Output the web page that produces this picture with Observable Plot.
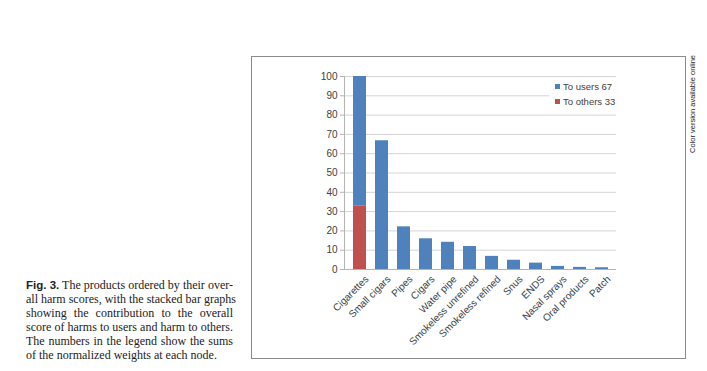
<!DOCTYPE html>
<html>
<head>
<meta charset="utf-8">
<script src="https://cdn.jsdelivr.net/npm/d3@7"></script>
<script src="https://cdn.jsdelivr.net/npm/@observablehq/plot@0.6"></script>
<style>
  html, body { margin: 0; padding: 0; background: #fff; }
  body { width: 707px; height: 371px; position: relative; overflow: hidden; }
  #box { position: absolute; left: 251px; top: 56px; width: 435px; height: 303px; box-sizing: border-box; border: 1px solid #8a8a8a; }
  #chart { position: absolute; left: 252px; top: 57px; }
  #legend { position: absolute; left: 549px; top: 79px; width: 68px; height: 31px; background: #fff;
            font-family: "Liberation Sans", Arial, sans-serif; font-size: 9.5px; color: #404040; }
  #legend .item { position: absolute; left: 6px; height: 12px; line-height: 12px; white-space: nowrap; }
  #legend .sw { display: inline-block; width: 5px; height: 5px; margin-right: 3px; vertical-align: 1px; }
  #side { position: absolute; left: 688px; top: 55px; width: 10px; height: 98px; }
  #side span { position: absolute; left: 0; top: 0; transform-origin: 0 0; transform: translate(0px, 98px) rotate(-90deg);
               font-family: "Liberation Sans", Arial, sans-serif; font-size: 7.5px; color: #222; white-space: nowrap; line-height: 10px; }
  #caption { position: absolute; left: 26px; top: 278px; width: 207px; font-family: "Liberation Serif", "Times New Roman", serif;
             font-size: 12px; line-height: 14px; color: #222; }
  #caption div { text-align: justify; text-align-last: justify; white-space: nowrap; }
  #caption div.last { text-align: left; text-align-last: left; }
  #caption b { font-family: "Liberation Sans", Arial, sans-serif; font-size: 11.5px; }
</style>
</head>
<body>
<div id="box"></div>
<div id="chart"></div>
<div id="legend"></div>
<div id="side"><span>Color version available online</span></div>
<div id="caption"></div>
<script>
const products = ["Cigarettes", "Small cigars", "Pipes", "Cigars", "Water pipe", "Smokeless unrefined",
  "Smokeless refined", "Snus", "ENDS", "Nasal sprays", "Oral products", "Patch"];
const toUsers  = [67, 66.7, 22.1, 15.9, 14.1, 11.9, 6.8, 4.8, 3.3, 1.6, 1.1, 0.9];
const toOthers = [33, 0, 0, 0, 0, 0, 0, 0, 0, 0, 0, 0];
const seriesNames = ["To others", "To users"];
const seriesColors = ["#C0504D", "#4F81BD"];
const legendLabels = ["To users 67", "To others 33"];
const yTicks = [0, 10, 20, 30, 40, 50, 60, 70, 80, 90, 100];
const captionLines = [
  "<b>Fig. 3.</b> The products ordered by their over-",
  "all harm scores, with the stacked bar graphs",
  "showing the contribution to the overall",
  "score of harms to users and harm to others.",
  "The numbers in the legend show the sums",
  "of the normalized weights at each node."
];

const rows = [];
products.forEach((p, i) => rows.push({product: p, series: seriesNames[0], value: toOthers[i]}));
products.forEach((p, i) => rows.push({product: p, series: seriesNames[1], value: toUsers[i]}));

const W = 432, ML = 92, MR = 68;
const chart = Plot.plot({
  width: W,
  height: 300,
  marginLeft: ML,
  marginRight: MR,
  marginTop: 19,
  marginBottom: 88,
  style: {fontFamily: "'Liberation Sans', Arial, sans-serif", fontSize: "10px", color: "#404040", background: "transparent"},
  x: {domain: products, padding: 0.43, range: [ML - 4.9, W - MR + 4.9], label: null},
  y: {domain: [0, 100], label: null},
  color: {domain: seriesNames, range: seriesColors},
  marks: [
    Plot.gridY(yTicks, {stroke: "#d4d4d4", strokeOpacity: 1}),
    Plot.barY(rows, {x: "product", y: "value", fill: "series", order: seriesNames}),
    Plot.frame({anchor: "left", stroke: "#b4b4b4"}),
    Plot.ruleY([0], {stroke: "#b4b4b4"}),
    Plot.axisY(yTicks, {tickSize: 4, tickPadding: 3, label: null, stroke: "#b4b4b4", fill: "#404040"}),
    Plot.axisX({tickRotate: -45, tickSize: 0, tickPadding: 8, dx: 7, label: null, fill: "#404040"})
  ]
});
document.getElementById("chart").appendChild(chart);

const legend = document.getElementById("legend");
const legendColors = [seriesColors[1], seriesColors[0]];
legendLabels.forEach((t, i) => {
  const d = document.createElement("div");
  d.className = "item";
  d.style.top = (2 + i * 15) + "px";
  d.innerHTML = `<span class="sw" style="background:${legendColors[i]}"></span>${t}`;
  legend.appendChild(d);
});

const cap = document.getElementById("caption");
captionLines.forEach((l, i) => {
  const d = document.createElement("div");
  if (i === captionLines.length - 1) d.className = "last";
  d.innerHTML = l;
  cap.appendChild(d);
});
</script>
</body>
</html>
